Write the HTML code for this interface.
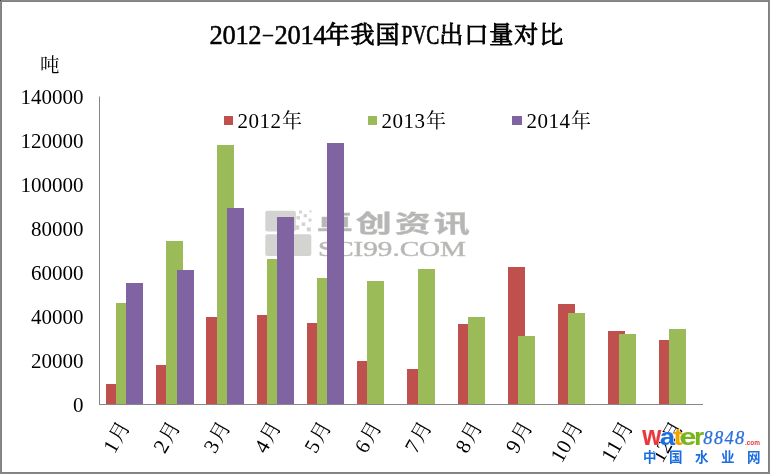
<!DOCTYPE html>
<html lang="zh-CN">
<head>
<meta charset="utf-8">
<title>2012-2014年我国PVC出口量对比</title>
<style>
html,body{margin:0;padding:0;background:#fff;}
body{width:770px;height:474px;overflow:hidden;}
svg{display:block;}
.t{font-family:"Liberation Serif","Noto Serif CJK SC",serif;fill:#000;}
.lab{font-size:21px;}
.cj{font-family:"Noto Serif CJK SC","Liberation Serif",serif;font-size:19.5px;}
.wm{fill:#b6b6b4;}
.hei{font-family:"Liberation Sans","Noto Sans CJK SC",sans-serif;font-weight:bold;}
</style>
</head>
<body>
<svg width="770" height="474" viewBox="0 0 770 474">
<rect x="0" y="0" width="770" height="474" fill="#888888"/>
<rect x="1" y="1" width="768" height="472" fill="#808080"/>
<rect x="2" y="2" width="766" height="470" fill="#ffffff"/>
<rect x="0" y="0" width="1" height="1" fill="#404040"/>

<defs><filter id="soft" x="-5%" y="-10%" width="110%" height="120%"><feGaussianBlur stdDeviation="0.45"/></filter></defs>
<g id="watermark" filter="url(#soft)">
<rect x="265.3" y="210.8" width="30.5" height="20.6" rx="2" fill="#d3d3d1"/>
<rect x="265.3" y="234.3" width="46" height="21.6" rx="2" fill="#d3d3d1"/>
<rect x="299.1" y="210.5" width="3.0" height="3.0" fill="#d3d3d1"/>
<rect x="303.7" y="214.1" width="3.2" height="3.2" fill="#d3d3d1"/>
<rect x="308.5" y="218.6" width="3.0" height="3.0" fill="#d3d3d1"/>
<rect x="296.5" y="216.1" width="3.4" height="3.4" fill="#d3d3d1"/>
<rect x="301.7" y="222.4" width="3.6" height="3.6" fill="#d3d3d1"/>
<rect x="306.8" y="227.4" width="4" height="4" fill="#d3d3d1"/>
<rect x="294.8" y="225.3" width="4.4" height="4.4" fill="#d3d3d1"/>
<rect x="309.5" y="210.4" width="2" height="2" fill="#d3d3d1"/>
<text class="hei wm" transform="translate(316.8,232) scale(1.532,1)" x="0 25.46 50.91 76.37" y="0" font-size="23.5" stroke="#bdbdbb" stroke-width="0.4">卓创资讯</text>
<text class="wm" stroke="#bdbdbb" stroke-width="0.5" style="font-family:'Liberation Serif',serif" x="318" y="256" font-size="20.5" textLength="148" lengthAdjust="spacingAndGlyphs">SCI99.COM</text>
</g>
<g shape-rendering="crispEdges">
<rect x="106" y="384" width="17" height="20.5" fill="#C0504D"/>
<rect x="116" y="303" width="17" height="101.5" fill="#9BBB59"/>
<rect x="126" y="283.25" width="17" height="121.25" fill="#8064A2"/>
<rect x="156" y="365" width="17" height="39.5" fill="#C0504D"/>
<rect x="166" y="241.25" width="17" height="163.25" fill="#9BBB59"/>
<rect x="177" y="270" width="17" height="134.5" fill="#8064A2"/>
<rect x="206" y="316.75" width="17" height="87.75" fill="#C0504D"/>
<rect x="217" y="145" width="17" height="259.5" fill="#9BBB59"/>
<rect x="227" y="208" width="17" height="196.5" fill="#8064A2"/>
<rect x="257" y="315" width="17" height="89.5" fill="#C0504D"/>
<rect x="267" y="259" width="17" height="145.5" fill="#9BBB59"/>
<rect x="277" y="217" width="17" height="187.5" fill="#8064A2"/>
<rect x="307" y="323" width="17" height="81.5" fill="#C0504D"/>
<rect x="317" y="278" width="17" height="126.5" fill="#9BBB59"/>
<rect x="327" y="143" width="17" height="261.5" fill="#8064A2"/>
<rect x="357" y="361" width="17" height="43.5" fill="#C0504D"/>
<rect x="367" y="281.3" width="17" height="123.19999999999999" fill="#9BBB59"/>
<rect x="407" y="369" width="17" height="35.5" fill="#C0504D"/>
<rect x="418" y="269.3" width="17" height="135.2" fill="#9BBB59"/>
<rect x="458" y="324" width="17" height="80.5" fill="#C0504D"/>
<rect x="468" y="317" width="17" height="87.5" fill="#9BBB59"/>
<rect x="508" y="267" width="17" height="137.5" fill="#C0504D"/>
<rect x="518" y="336" width="17" height="68.5" fill="#9BBB59"/>
<rect x="558" y="304" width="17" height="100.5" fill="#C0504D"/>
<rect x="568" y="313" width="17" height="91.5" fill="#9BBB59"/>
<rect x="608" y="331" width="17" height="73.5" fill="#C0504D"/>
<rect x="619" y="334" width="17" height="70.5" fill="#9BBB59"/>
<rect x="659" y="340" width="17" height="64.5" fill="#C0504D"/>
<rect x="669" y="329" width="17" height="75.5" fill="#9BBB59"/>
</g>
<rect x="99" y="96.5" width="1" height="308.5" fill="#868686"/>
<rect x="99" y="404" width="604" height="1" fill="#868686"/>
<text class="t lab" x="83.5" y="411.50" text-anchor="end">0</text>
<text class="t lab" x="83.5" y="367.64" text-anchor="end">20000</text>
<text class="t lab" x="83.5" y="323.78" text-anchor="end">40000</text>
<text class="t lab" x="83.5" y="279.92" text-anchor="end">60000</text>
<text class="t lab" x="83.5" y="236.06" text-anchor="end">80000</text>
<text class="t lab" x="83.5" y="192.20" text-anchor="end">100000</text>
<text class="t lab" x="83.5" y="148.34" text-anchor="end">120000</text>
<text class="t lab" x="83.5" y="104.48" text-anchor="end">140000</text>
<text class="t cj" x="39.9" y="72.3">吨</text>
<text class="t" font-size="26.5" y="44.2" stroke="#000" stroke-width="0.5"><tspan x="209.6" textLength="52" lengthAdjust="spacing">2012</tspan><tspan x="261.8" dy="-5" font-size="15" stroke-width="0.35" textLength="12.4" lengthAdjust="spacingAndGlyphs">-</tspan><tspan x="274.6" dy="5" textLength="52" lengthAdjust="spacing">2014</tspan><tspan style="font-family:'Noto Serif CJK SC','Liberation Serif',serif;font-size:24px" stroke-width="0.85" dy="-0.8" x="325.4 350.4 375.4">年我国</tspan><tspan x="401.4" dy="0.8" font-size="26.5" stroke-width="0.65" textLength="38" lengthAdjust="spacingAndGlyphs">PVC</tspan><tspan style="font-family:'Noto Serif CJK SC','Liberation Serif',serif;font-size:24px" stroke-width="0.85" dy="-0.8" x="439.2 464.2 489.2 514.2 539.2">出口量对比</tspan></text>
<rect x="224" y="116" width="9" height="9" fill="#C0504D"/>
<text class="t lab" y="127.8"><tspan x="237.5" letter-spacing="0.5">2012</tspan><tspan class="cj" style="font-size:20px" x="282.0" dy="-0.2">年</tspan></text>
<rect x="368" y="116" width="9" height="9" fill="#9BBB59"/>
<text class="t lab" y="127.8"><tspan x="381.5" letter-spacing="0.5">2013</tspan><tspan class="cj" style="font-size:20px" x="426.0" dy="-0.2">年</tspan></text>
<rect x="512" y="116" width="10" height="9" fill="#8064A2"/>
<text class="t lab" y="127.8"><tspan x="526.6" letter-spacing="0.5">2014</tspan><tspan class="cj" style="font-size:20px" x="571.1" dy="-0.2">年</tspan></text>
<text class="t lab" transform="translate(130.7,426.5) rotate(-60)" text-anchor="end" y="0"><tspan x="-21.3" letter-spacing="0.4">1</tspan><tspan class="cj" style="font-size:20.5px" x="0.3">月</tspan></text>
<text class="t lab" transform="translate(180.9,426.5) rotate(-60)" text-anchor="end" y="0"><tspan x="-21.3" letter-spacing="0.4">2</tspan><tspan class="cj" style="font-size:20.5px" x="0.3">月</tspan></text>
<text class="t lab" transform="translate(231.2,426.5) rotate(-60)" text-anchor="end" y="0"><tspan x="-21.3" letter-spacing="0.4">3</tspan><tspan class="cj" style="font-size:20.5px" x="0.3">月</tspan></text>
<text class="t lab" transform="translate(281.5,426.5) rotate(-60)" text-anchor="end" y="0"><tspan x="-21.3" letter-spacing="0.4">4</tspan><tspan class="cj" style="font-size:20.5px" x="0.3">月</tspan></text>
<text class="t lab" transform="translate(331.9,426.5) rotate(-60)" text-anchor="end" y="0"><tspan x="-21.3" letter-spacing="0.4">5</tspan><tspan class="cj" style="font-size:20.5px" x="0.3">月</tspan></text>
<text class="t lab" transform="translate(382.1,426.5) rotate(-60)" text-anchor="end" y="0"><tspan x="-21.3" letter-spacing="0.4">6</tspan><tspan class="cj" style="font-size:20.5px" x="0.3">月</tspan></text>
<text class="t lab" transform="translate(432.4,426.5) rotate(-60)" text-anchor="end" y="0"><tspan x="-21.3" letter-spacing="0.4">7</tspan><tspan class="cj" style="font-size:20.5px" x="0.3">月</tspan></text>
<text class="t lab" transform="translate(482.8,426.5) rotate(-60)" text-anchor="end" y="0"><tspan x="-21.3" letter-spacing="0.4">8</tspan><tspan class="cj" style="font-size:20.5px" x="0.3">月</tspan></text>
<text class="t lab" transform="translate(533.0,426.5) rotate(-60)" text-anchor="end" y="0"><tspan x="-21.3" letter-spacing="0.4">9</tspan><tspan class="cj" style="font-size:20.5px" x="0.3">月</tspan></text>
<text class="t lab" transform="translate(583.3,426.5) rotate(-60)" text-anchor="end" y="0"><tspan x="-21.3" letter-spacing="0.4">10</tspan><tspan class="cj" style="font-size:20.5px" x="0.3">月</tspan></text>
<text class="t lab" transform="translate(633.6,426.5) rotate(-60)" text-anchor="end" y="0"><tspan x="-21.3" letter-spacing="0.4">11</tspan><tspan class="cj" style="font-size:20.5px" x="0.3">月</tspan></text>
<text class="t lab" transform="translate(683.9,426.5) rotate(-60)" text-anchor="end" y="0"><tspan x="-21.3" letter-spacing="0.4">12</tspan><tspan class="cj" style="font-size:20.5px" x="0.3">月</tspan></text>
<defs><filter id="halo" x="-5%" y="-30%" width="110%" height="160%" color-interpolation-filters="sRGB"><feGaussianBlur in="SourceAlpha" stdDeviation="0.55" result="b"/><feComponentTransfer in="b" result="b2"><feFuncA type="linear" slope="3.5" intercept="0"/></feComponentTransfer><feFlood flood-color="#ffffff" result="w"/><feComposite in="w" in2="b2" operator="in" result="h"/><feMerge><feMergeNode in="h"/><feMergeNode in="SourceGraphic"/></feMerge></filter></defs>
<g id="logo" filter="url(#halo)" style="font-family:'Liberation Sans','Noto Sans CJK SC',sans-serif;font-weight:bold">
<text y="445.3" font-size="24" stroke-width="0.2" stroke-linejoin="round"><tspan x="642.2" font-size="28.5" fill="#e8383d" stroke="#e8383d" textLength="19" lengthAdjust="spacingAndGlyphs">w</tspan><tspan x="660.0" fill="#1a6ee0" stroke="#1a6ee0" textLength="15" lengthAdjust="spacingAndGlyphs">a</tspan><tspan x="673.8" fill="#f5a300" stroke="#f5a300" textLength="8.6" lengthAdjust="spacingAndGlyphs">t</tspan><tspan x="679.4" fill="#78b41e" stroke="#78b41e" textLength="16.8" lengthAdjust="spacingAndGlyphs">e</tspan><tspan x="694.2" fill="#78b41e" stroke="#78b41e" textLength="9.8" lengthAdjust="spacingAndGlyphs">r</tspan><tspan x="703.3" dy="-1.7" font-size="18.5" fill="#2a6fdb" stroke="#2a6fdb" stroke-width="0.25" style="font-family:'Liberation Serif',serif;font-style:italic;font-weight:normal" textLength="41" lengthAdjust="spacing">8848</tspan><tspan x="745" dy="1.7" font-size="7.2" fill="#e8383d" stroke="none" textLength="15" lengthAdjust="spacingAndGlyphs">.com</tspan></text>
<text y="462.3" font-size="13.5" fill="#1a6ee0"><tspan x="643 669 695 721 747">中国水业网</tspan></text>
</g>
</svg>
</body>
</html>
